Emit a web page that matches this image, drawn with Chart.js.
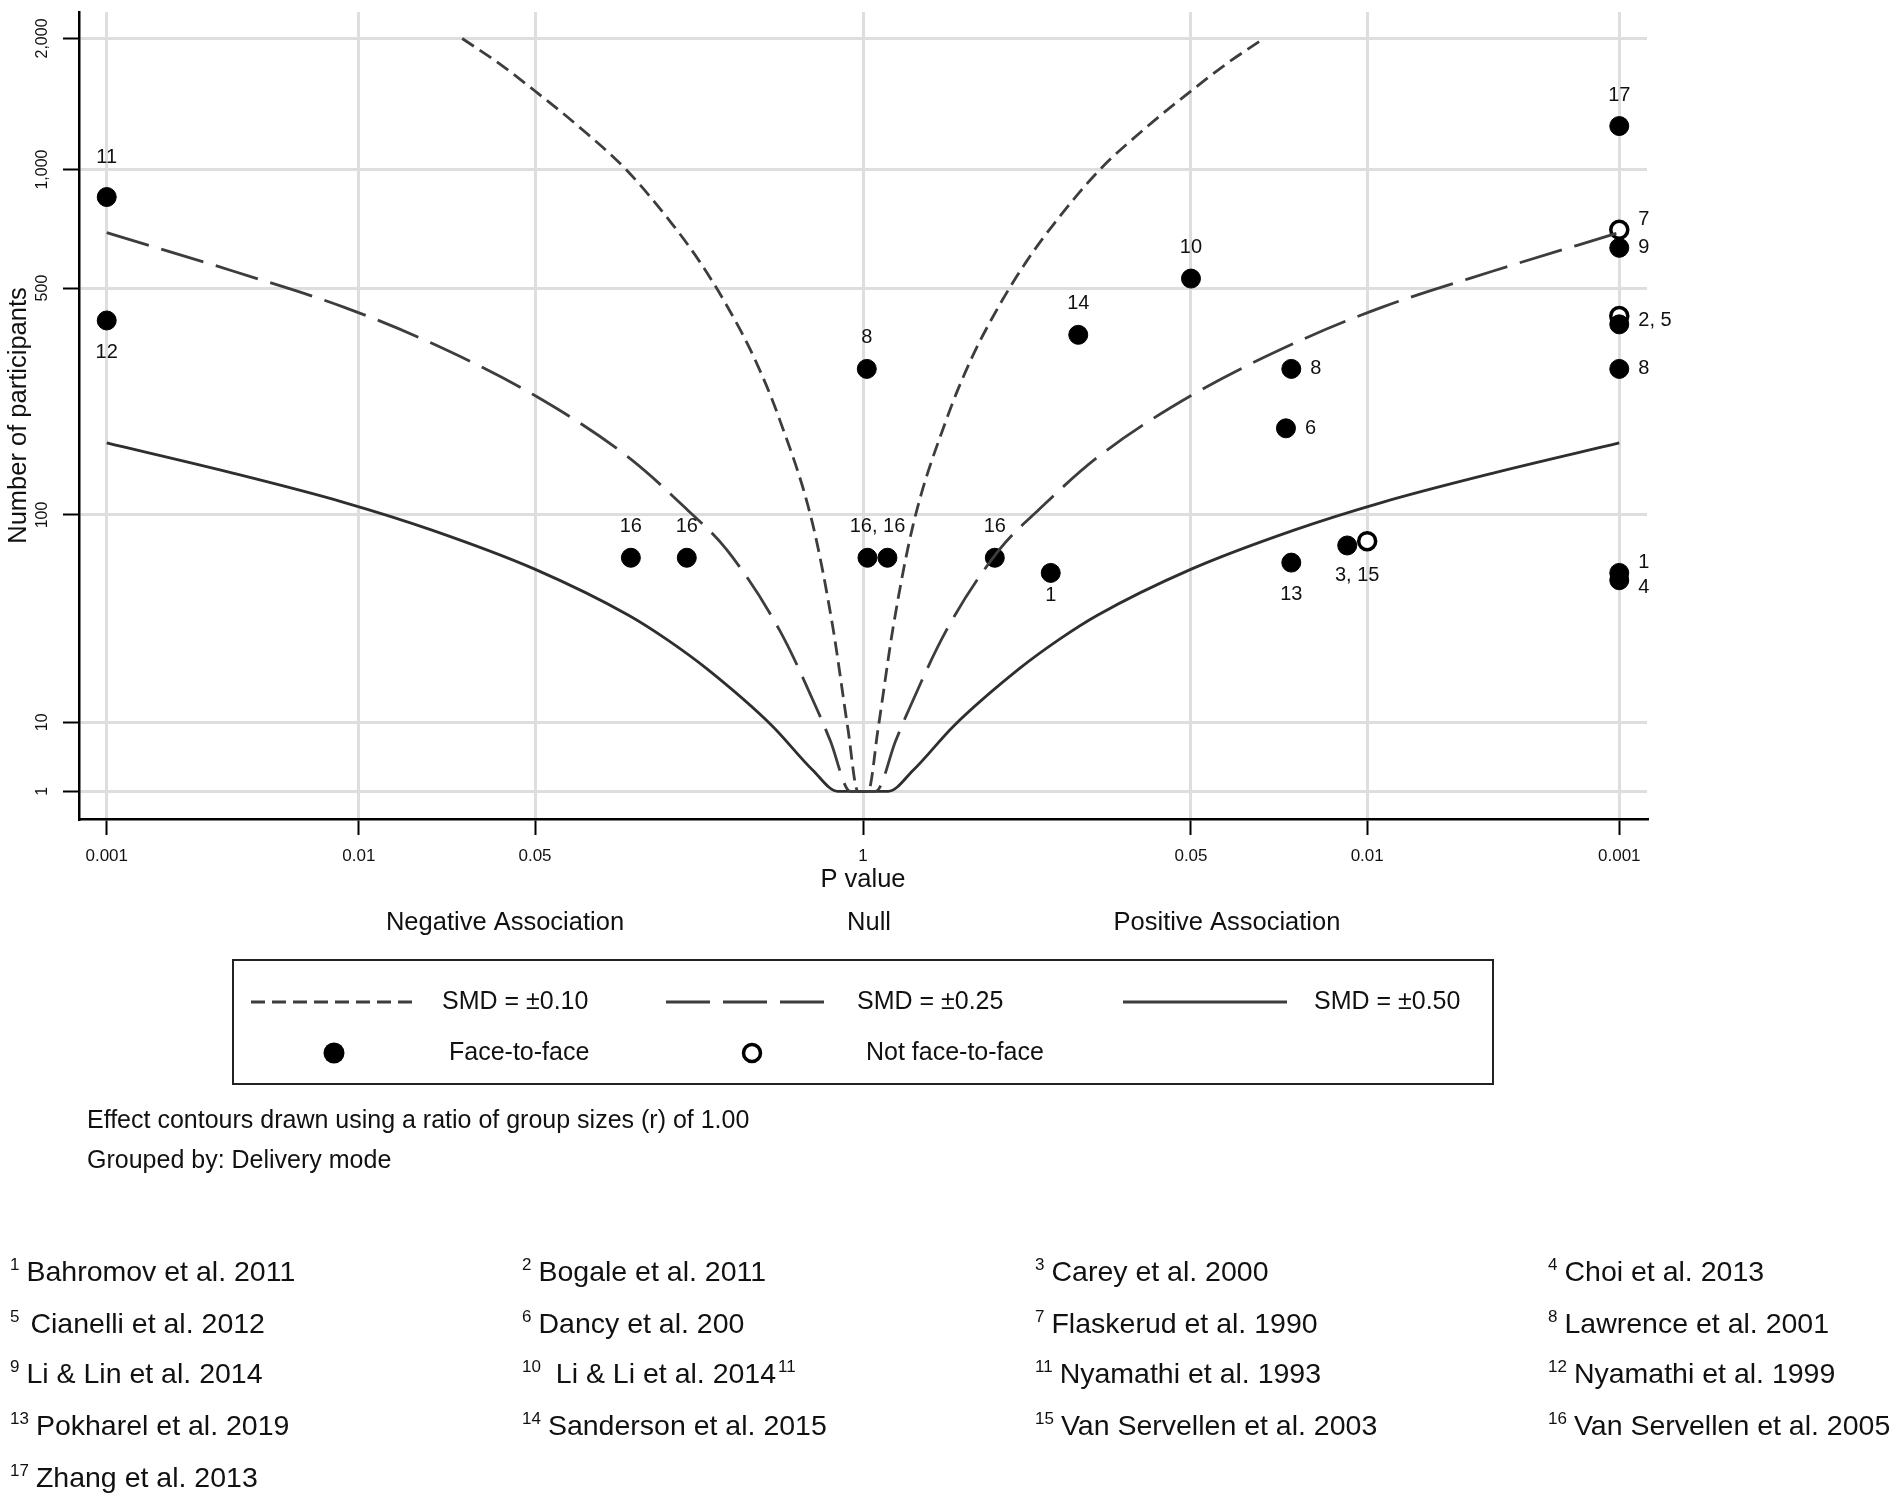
<!DOCTYPE html>
<html>
<head>
<meta charset="utf-8">
<title>Albatross plot</title>
<script src="https://cdn.jsdelivr.net/npm/chart.js@4.4.1/dist/chart.umd.min.js"></script>
<style>
  body { margin: 0; background: #fff; }
  #albatross { display: block; }
</style>
</head>
<body>
<canvas id="albatross" width="1902" height="1501"></canvas>
<script>
// x axis: two-sided p values, negative association left of p = 1
const pTicks = [0.001, 0.01, 0.05, 1, 0.05, 0.01, 0.001];
const pTickSide = [-1, -1, -1, 0, 1, 1, 1];
const pTickLabels = ['0.001', '0.01', '0.05', '1', '0.05', '0.01', '0.001'];

// y axis: number of participants
const nTicks = [1, 10, 100, 500, 1000, 2000];
const nTickLabels = ['1', '10', '100', '500', '1,000', '2,000'];

// effect contours, read off one half of the plot (the other half mirrors it)
// distance from p = 1 in -log10(p) and the participants there
const smd10Dist = [0.02, 0.06, 0.12, 0.20, 0.33, 0.43, 0.54, 0.65, 0.76, 0.94, 1.13, 1.30, 1.44, 1.59];
const smd10N = [1, 9, 35, 93, 208, 318, 448, 590, 738, 1000, 1268, 1525, 1755, 2000];
const smd25Dist = [0.05, 0.13, 0.17, 0.33, 0.54, 0.70, 0.93, 1.30, 1.71, 2.06, 2.50, 3.00];
const smd25N = [1, 7.2, 11, 33.5, 74, 105, 158, 247, 352, 444, 555, 698];
const smd50Dist = [0.10, 0.20, 0.36, 0.62, 0.78, 0.93, 1.30, 1.71, 2.06, 2.50, 3.00];
const smd50N = [1, 3.6, 9.4, 21.5, 30.5, 39.5, 62, 88, 111, 140, 176];

// studies (F = face-to-face, N = not face-to-face)
const studyTag     = ['11', '12', '17', '7', '9', '2', '5', '8', '1', '4', '8', '14', '10', '8', '6', '13', '3', '15', '1', '16', '16', '16', '16', '16'];
const delivery     = ['F', 'F', 'F', 'N', 'F', 'N', 'F', 'F', 'F', 'F', 'F', 'F', 'F', 'F', 'F', 'F', 'F', 'N', 'F', 'F', 'F', 'F', 'F', 'F'];
const direction    = [-1, -1, 1, 1, 1, 1, 1, 1, 1, 1, 1, 1, 1, 1, 1, 1, 1, 1, 1, 1, 1, 1, -1, -1];
const pValue       = [0.001, 0.001, 0.001, 0.001, 0.001, 0.001, 0.001, 0.001, 0.001, 0.001, 0.966, 0.14, 0.05, 0.020, 0.021, 0.020, 0.012, 0.010, 0.18, 0.30, 0.80, 0.96, 0.20, 0.12];
const participants = [857, 408, 1268, 710, 638, 420, 398, 297, 60, 56, 297, 372, 530, 297, 196, 66, 77, 80, 60, 69, 69, 69, 69, 69];
// where the study number sits, and which points share one label
const labelSpot    = ['NN', 'S', 'N', 'NE', 'E', 'E', 'E', 'E', 'NE', 'SE', 'N', 'N', 'N', 'E', 'E', 'S', 'S', 'S', 'SN', 'N', 'N', 'N', 'N', 'N'];
const labelGroup   = [0, 1, 2, 3, 4, 5, 5, 6, 7, 8, 9, 10, 11, 12, 13, 14, 15, 15, 16, 17, 18, 18, 19, 20];

// footnotes
const refNumbers = ['1', '2', '3', '4', '5', '6', '7', '8', '9', '10', '11', '12', '13', '14', '15', '16', '17'];
const refNames = ['Bahromov et al. 2011', 'Bogale et al. 2011', 'Carey et al. 2000', 'Choi et al. 2013',
  'Cianelli et al. 2012', 'Dancy et al. 200', 'Flaskerud et al. 1990', 'Lawrence et al. 2001',
  'Li & Lin et al. 2014', ' Li & Li et al. 2014', 'Nyamathi et al. 1993', 'Nyamathi et al. 1999',
  'Pokharel et al. 2019', 'Sanderson et al. 2015', 'Van Servellen et al. 2003', 'Van Servellen et al. 2005',
  'Zhang et al. 2013'];
const refTrailing = ['', '', '', '', '', '', '', '', '', '11', '', '', '', '', '', '', ''];

const FONT = '"Liberation Sans", Arial, Helvetica, sans-serif';
const INK = '#111';

// the y axis runs on (log10 n)^2
function toAxis(n) {
  const l = Math.log10(n);
  return l * l;
}

function pToAxis(p, side) {
  return p === 1 ? 0 : side * -Math.log10(p);
}

function contour(dist, n) {
  const left = dist.map((d, i) => ({ x: -d, y: toAxis(n[i]) })).reverse();
  const right = dist.map((d, i) => ({ x: d, y: toAxis(n[i]) }));
  return left.concat(right);
}

function studyPoints(mode) {
  const pts = [];
  studyTag.forEach((tag, i) => {
    if (delivery[i] === mode) {
      pts.push({ x: pToAxis(pValue[i], direction[i]), y: toAxis(participants[i]) });
    }
  });
  return pts;
}

const lineStyle = {
  showLine: true,
  pointRadius: 0,
  borderWidth: 2.8,
  fill: false,
  cubicInterpolationMode: 'monotone',
  order: 0
};

// offsets of the study numbers from their point(s)
const spotOffset = { N: [0, -31], NN: [0, -40], S: [0, 32], SN: [0, 23], E: [19, 0], NE: [19, -10], SE: [19, 7] };

// texts, legend and notes drawn round the plot
const albatrossText = {
  id: 'albatrossText',
  afterDraw(chart) {
    const c = chart.ctx;
    const area = chart.chartArea;
    const xs = chart.scales.x;
    const ys = chart.scales.y;
    c.save();
    c.fillStyle = INK;
    c.strokeStyle = INK;

    // y tick labels, turned
    c.font = '16px ' + FONT;
    c.textAlign = 'center';
    c.textBaseline = 'middle';
    nTicks.forEach((n, i) => {
      c.save();
      c.translate(area.left - 36, ys.getPixelForValue(toAxis(n)));
      c.rotate(-Math.PI / 2);
      c.fillText(nTickLabels[i], 0, 0);
      c.restore();
    });

    // x tick labels
    c.font = '17px ' + FONT;
    pTicks.forEach((p, i) => {
      c.fillText(pTickLabels[i], xs.getPixelForValue(pToAxis(p, pTickSide[i])), area.bottom + 37);
    });

    // axis titles
    c.font = '25.5px ' + FONT;
    c.save();
    c.translate(19, (area.top + area.bottom) / 2);
    c.rotate(-Math.PI / 2);
    c.fillText('Number of participants', 0, 0);
    c.restore();
    c.fillText('P value', xs.getPixelForValue(0), area.bottom + 61);
    c.fillText('Negative Association', 505, area.bottom + 104);
    c.fillText('Null', 869, area.bottom + 104);
    c.fillText('Positive Association', 1227, area.bottom + 104);

    // study numbers next to the points
    c.font = '20px ' + FONT;
    const groups = {};
    studyTag.forEach((tag, i) => {
      (groups[labelGroup[i]] = groups[labelGroup[i]] || []).push(i);
    });
    Object.values(groups).forEach(idx => {
      const text = idx.map(i => studyTag[i]).join(', ');
      let cx = 0, cy = 0;
      idx.forEach(i => {
        cx += xs.getPixelForValue(pToAxis(pValue[i], direction[i]));
        cy += ys.getPixelForValue(toAxis(participants[i]));
      });
      cx /= idx.length;
      cy /= idx.length;
      const spot = labelSpot[idx[0]];
      const off = spotOffset[spot];
      c.textAlign = off[0] === 0 ? 'center' : 'left';
      c.fillText(text, cx + off[0], cy + off[1]);
    });

    // legend box
    c.lineWidth = 2;
    c.strokeStyle = '#222';
    c.strokeRect(233, 960, 1260, 124);
    const row1 = 1002, row2 = 1053;
    c.strokeStyle = '#3d3d3d';
    c.lineWidth = 2.8;
    [[251, 414, [14, 7]], [666, 828, [44, 13]], [1123, 1287, []]].forEach(s => {
      c.setLineDash(s[2]);
      c.beginPath();
      c.moveTo(s[0], row1);
      c.lineTo(s[1], row1);
      c.stroke();
    });
    c.setLineDash([]);
    c.fillStyle = '#000';
    c.beginPath();
    c.arc(334, row2, 10.5, 0, Math.PI * 2);
    c.fill();
    c.strokeStyle = '#000';
    c.lineWidth = 3.5;
    c.beginPath();
    c.arc(752, row2, 8.5, 0, Math.PI * 2);
    c.stroke();

    c.fillStyle = INK;
    c.font = '25px ' + FONT;
    c.textAlign = 'left';
    c.fillText('SMD = \u00b10.10', 442, row1);
    c.fillText('SMD = \u00b10.25', 857, row1);
    c.fillText('SMD = \u00b10.50', 1314, row1);
    c.fillText('Face-to-face', 449, row2);
    c.fillText('Not face-to-face', 866, row2);

    // notes under the legend
    c.fillText('Effect contours drawn using a ratio of group sizes (r) of 1.00', 87, 1121);
    c.fillText('Grouped by: Delivery mode', 87, 1161);

    // reference list, four columns
    const colX = [10, 522, 1035, 1548];
    const rowY = [1281, 1333, 1383, 1435, 1487];
    c.textBaseline = 'alphabetic';
    refNumbers.forEach((num, i) => {
      const x = colX[i % 4];
      const y = rowY[Math.floor(i / 4)];
      c.font = '17px ' + FONT;
      c.fillText(num, x, y - 11);
      const supW = c.measureText(num).width;
      c.font = '28.5px ' + FONT;
      const tx = x + supW + (num === '5' ? 11 : 7);
      c.fillText(refNames[i], tx, y);
      if (refTrailing[i]) {
        const w = c.measureText(refNames[i]).width;
        c.font = '17px ' + FONT;
        c.fillText(refTrailing[i], tx + w + 2, y - 11);
      }
    });
    c.restore();
  }
};

const ctx = document.getElementById('albatross').getContext('2d');
const albatrossChart = new Chart(ctx, {
  type: 'scatter',
  data: {
    datasets: [
      Object.assign({ label: 'SMD = \u00b10.10', data: contour(smd10Dist, smd10N), borderColor: '#3d3d3d', borderDash: [14, 7] }, lineStyle),
      Object.assign({ label: 'SMD = \u00b10.25', data: contour(smd25Dist, smd25N), borderColor: '#3d3d3d', borderDash: [44, 13] }, lineStyle),
      Object.assign({ label: 'SMD = \u00b10.50', data: contour(smd50Dist, smd50N), borderColor: '#2e2e2e' }, lineStyle),
      {
        label: 'Face-to-face',
        data: studyPoints('F'),
        pointRadius: 9.5,
        pointBorderWidth: 1,
        pointBackgroundColor: '#000',
        pointBorderColor: '#000',
        order: 1
      },
      {
        label: 'Not face-to-face',
        data: studyPoints('N'),
        pointRadius: 8.5,
        pointBorderWidth: 3.5,
        pointBackgroundColor: '#fff',
        pointBorderColor: '#000',
        order: 2
      }
    ]
  },
  options: {
    responsive: false,
    devicePixelRatio: 1,
    animation: false,
    events: [],
    layout: { padding: { left: 0, top: 8, right: 255, bottom: 0 } },
    plugins: {
      legend: { display: false },
      tooltip: { enabled: false }
    },
    scales: {
      x: {
        type: 'linear',
        min: -3.11,
        max: 3.11,
        afterBuildTicks: scale => {
          scale.ticks = pTicks.map((p, i) => ({ value: pToAxis(p, pTickSide[i]) }));
        },
        afterFit: scale => { scale.height = 682; },
        ticks: { display: false },
        grid: { color: '#dedede', lineWidth: 3, tickColor: '#000', tickWidth: 2, tickLength: 16 },
        border: { color: '#000', width: 2.5 }
      },
      y: {
        type: 'linear',
        min: -0.40,
        max: 11.28,
        afterBuildTicks: scale => {
          scale.ticks = nTicks.map(n => ({ value: toAxis(n) }));
        },
        afterFit: scale => { scale.width = 79; },
        ticks: { display: false },
        grid: { color: '#dedede', lineWidth: 3, tickColor: '#000', tickWidth: 2, tickLength: 16 },
        border: { color: '#000', width: 2.5 }
      }
    }
  },
  plugins: [albatrossText]
});
</script>
</body>
</html>
